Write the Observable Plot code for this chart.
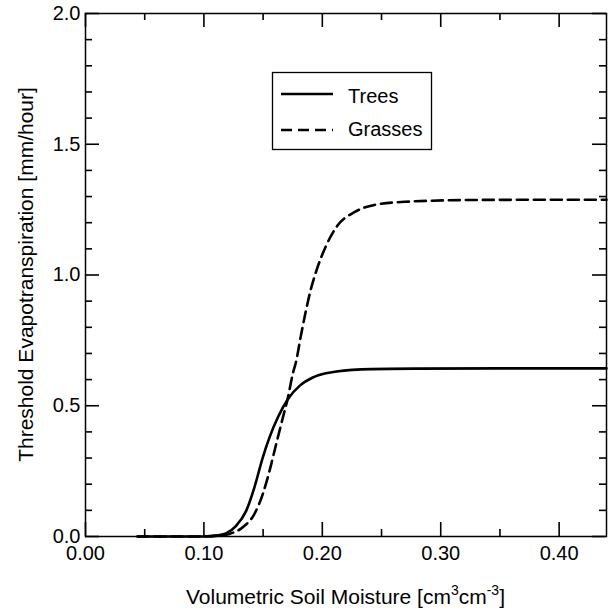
<!DOCTYPE html>
<html>
<head>
<meta charset="utf-8">
<script src="https://cdn.jsdelivr.net/npm/d3@7"></script>
<script src="https://cdn.jsdelivr.net/npm/@observablehq/plot@0.6"></script>
<style>
  html, body { margin: 0; padding: 0; background: white; }
</style>
</head>
<body>
<div id="chart"></div>
<script>
// ---- Data ----
const treesMoisture = [0.044, 0.095, 0.105, 0.112, 0.1186, 0.127, 0.1356, 0.1426, 0.1497, 0.1554, 0.1624, 0.171, 0.181, 0.192, 0.203, 0.212, 0.2415, 0.28, 0.35, 0.44];
const treesET       = [0, 0, 0.002, 0.005, 0.012, 0.04, 0.097, 0.187, 0.302, 0.379, 0.455, 0.526, 0.577, 0.608, 0.624, 0.631, 0.640, 0.642, 0.643, 0.643];

const grassMoisture = [0.044, 0.10, 0.112, 0.1215, 0.1328, 0.1426, 0.1497, 0.1554, 0.161, 0.1667, 0.171, 0.175, 0.178, 0.182, 0.186, 0.190, 0.196, 0.203, 0.213, 0.227, 0.244, 0.27, 0.33, 0.44];
const grassET       = [0, 0, 0.003, 0.01, 0.035, 0.086, 0.162, 0.251, 0.353, 0.455, 0.532, 0.621, 0.672, 0.77, 0.86, 0.94, 1.03, 1.11, 1.19, 1.24, 1.268, 1.28, 1.287, 1.288];

const seriesNames = ["Trees", "Grasses"];
const xMajorTicks = [0, 0.1, 0.2, 0.3, 0.4];
const xMinorTicks = [0.05, 0.15, 0.25, 0.35];
const yMajorTicks = [0, 0.5, 1.0, 1.5, 2.0];
const yMinorTicks = [0.1, 0.2, 0.3, 0.4, 0.6, 0.7, 0.8, 0.9, 1.1, 1.2, 1.3, 1.4, 1.6, 1.7, 1.8, 1.9];
const xLabel = "Volumetric Soil Moisture";
const yLabel = "Threshold Evapotranspiration [mm/hour]";

// ---- Build tables ----
const trees = treesMoisture.map((x, i) => ({x, y: treesET[i]}));
const grasses = grassMoisture.map((x, i) => ({x, y: grassET[i]}));

const W = 612, H = 611;
const M = {top: 13, right: 6, bottom: 75, left: 85};
const innerW = W - M.left - M.right;
const innerH = H - M.top - M.bottom;
const majorLen = 14, minorLen = 7;
const FONT = "'Liberation Sans', Arial, Helvetica, sans-serif";
const tickStyle = {stroke: "black", strokeWidth: 1.6};

const plot = Plot.plot({
  width: W,
  height: H,
  marginTop: M.top,
  marginRight: M.right,
  marginBottom: M.bottom,
  marginLeft: M.left,
  style: {fontFamily: FONT, fontSize: "20px", color: "black", background: "white"},
  x: {domain: [0, 0.44], label: null},
  y: {domain: [0, 2], label: null},
  marks: [
    // inward ticks, bottom / top / left / right
    Plot.ruleX(xMajorTicks, {x: d => d, insetTop: innerH - majorLen, ...tickStyle}),
    Plot.ruleX(xMinorTicks, {x: d => d, insetTop: innerH - minorLen, ...tickStyle}),
    Plot.ruleX(xMajorTicks, {x: d => d, insetBottom: innerH - majorLen, ...tickStyle}),
    Plot.ruleX(xMinorTicks, {x: d => d, insetBottom: innerH - minorLen, ...tickStyle}),
    Plot.ruleY(yMajorTicks, {y: d => d, insetRight: innerW - majorLen, ...tickStyle}),
    Plot.ruleY(yMinorTicks, {y: d => d, insetRight: innerW - minorLen, ...tickStyle}),
    Plot.ruleY(yMajorTicks, {y: d => d, insetLeft: innerW - majorLen, ...tickStyle}),
    Plot.ruleY(yMinorTicks, {y: d => d, insetLeft: innerW - minorLen, ...tickStyle}),
    // tick labels
    Plot.axisX({ticks: xMajorTicks, tickFormat: d3.format(".2f"), tickSize: 0, tickPadding: 9, label: null}),
    Plot.axisY({ticks: yMajorTicks, tickFormat: d3.format(".1f"), tickSize: 0, tickPadding: 5, label: null}),
    // curves
    Plot.line(trees, {x: "x", y: "y", stroke: "black", strokeWidth: 2.6, curve: "monotone-x"}),
    Plot.line(grasses, {x: "x", y: "y", stroke: "black", strokeWidth: 2.6, strokeDasharray: "11,6", curve: "monotone-x"}),
    Plot.frame({stroke: "black", strokeWidth: 1.5})
  ]
});

document.getElementById("chart").appendChild(plot);

const svg = d3.select(plot);

// ---- Axis titles ----
const xt = svg.append("text")
  .attr("x", M.left + innerW / 2)
  .attr("y", 604)
  .attr("text-anchor", "middle")
  .attr("font-family", FONT)
  .attr("font-size", 21)
  .attr("fill", "black");
xt.append("tspan").text(xLabel + " [cm");
xt.append("tspan").attr("font-size", 14).attr("dy", -9).text("3");
xt.append("tspan").attr("dy", 9).text("cm");
xt.append("tspan").attr("font-size", 14).attr("dy", -9).text("-3");
xt.append("tspan").attr("dy", 9).text("]");

svg.append("text")
  .attr("transform", `translate(33,${M.top + innerH / 2}) rotate(-90)`)
  .attr("text-anchor", "middle")
  .attr("font-family", FONT)
  .attr("font-size", 21)
  .attr("fill", "black")
  .text(yLabel);

// ---- Legend ----
const lg = svg.append("g").attr("font-family", FONT).attr("font-size", 20).attr("text-anchor", "start");
lg.append("rect")
  .attr("x", 272.5).attr("y", 72.5).attr("width", 159).attr("height", 77)
  .attr("fill", "white").attr("stroke", "black").attr("stroke-width", 1.3);
const legendRows = [
  {name: seriesNames[0], dash: null, ly: 94, ty: 103},
  {name: seriesNames[1], dash: "11,6", ly: 130, ty: 136}
];
legendRows.forEach(r => {
  const ln = lg.append("line")
    .attr("x1", 281).attr("x2", 333).attr("y1", r.ly).attr("y2", r.ly)
    .attr("stroke", "black").attr("stroke-width", 2.6);
  if (r.dash) ln.attr("stroke-dasharray", r.dash);
  lg.append("text").attr("x", 348).attr("y", r.ty).attr("text-anchor", "start").attr("fill", "black").text(r.name);
});
</script>
</body>
</html>
